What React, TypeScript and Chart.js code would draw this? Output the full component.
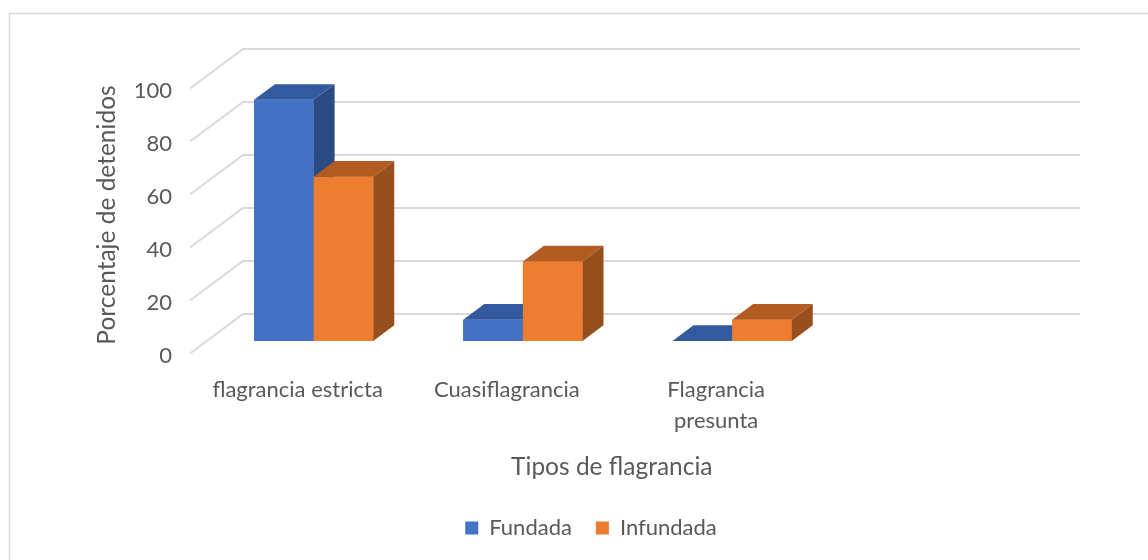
import React, { useEffect, useRef } from "react";
import { Chart, registerables } from "chart.js";

Chart.register(...registerables);

// ---- data ----
const categories: (string | string[])[] = [
  "flagrancia estricta",
  "Cuasiflagrancia",
  ["Flagrancia", "presunta"],
  "",
];
const fundada: (number | null)[] = [91, 8, 0, null];
const infundada: (number | null)[] = [62, 30, 8, null];
const seriesNames = ["Fundada", "Infundada"];
const yTickStep = 20;
const yMax = 100;
const xTitle = "Tipos de flagrancia";
const yTitle = "Porcentaje de detenidos";

// ---- style ----
const FONT = "Lato";
const TEXT = "#595959";
const GRID = "#d9d9d9";
const FRONT = ["#4472C4", "#ED7D31"];
const TOP = ["#335A9E", "#B35C21"];
const SIDE = ["#2A4A82", "#984F1E"];
// bar front plane -> back wall
const WALL_DX = 34;
const WALL_DY = -27;
// back wall -> front floor edge
const FLOOR_DX = -52.7;
const FLOOR_DY = 39.3;
// bar depth
const BAR_DX = 21;
const BAR_DY = -15.7;

const depthPlugin = {
  id: "depth3d",
  beforeDraw(chart: any) {
    const { ctx } = chart;
    ctx.save();
    ctx.fillStyle = "#fff";
    ctx.fillRect(0, 0, chart.width, chart.height);
    ctx.strokeStyle = GRID;
    ctx.lineWidth = 1.5;
    ctx.strokeRect(9.5, 13.5, 1200, 700);
    ctx.restore();
  },
  beforeDatasetsDraw(chart: any) {
    const { ctx, chartArea, scales } = chart;
    const y = scales.y;
    ctx.save();
    ctx.strokeStyle = GRID;
    ctx.lineWidth = 2;
    y.ticks.forEach((t: any) => {
      const py = y.getPixelForValue(t.value);
      const bx = chartArea.left + WALL_DX;
      const by = py + WALL_DY;
      ctx.beginPath();
      ctx.moveTo(bx + FLOOR_DX, by + FLOOR_DY);
      ctx.lineTo(bx, by);
      ctx.lineTo(chartArea.right + WALL_DX, by);
      ctx.stroke();
    });
    ctx.restore();
  },
  afterDatasetsDraw(chart: any) {
    const { ctx } = chart;
    const n = chart.data.labels.length;
    ctx.save();
    for (let i = 0; i < n; i++) {
      chart.data.datasets.forEach((ds: any, d: number) => {
        if (ds.data[i] === null || ds.data[i] === undefined) return;
        const el = chart.getDatasetMeta(d).data[i];
        if (!el) return;
        const { x, y, base, width } = el.getProps(["x", "y", "base", "width"], true);
        const l = x - width / 2;
        const r = x + width / 2;
        ctx.fillStyle = FRONT[d];
        ctx.fillRect(l, y, width, base - y);
        ctx.fillStyle = TOP[d];
        ctx.beginPath();
        ctx.moveTo(l, y);
        ctx.lineTo(l + BAR_DX, y + BAR_DY);
        ctx.lineTo(r + BAR_DX, y + BAR_DY);
        ctx.lineTo(r, y);
        ctx.closePath();
        ctx.fill();
        ctx.fillStyle = SIDE[d];
        ctx.beginPath();
        ctx.moveTo(r, y);
        ctx.lineTo(r + BAR_DX, y + BAR_DY);
        ctx.lineTo(r + BAR_DX, base + BAR_DY);
        ctx.lineTo(r, base);
        ctx.closePath();
        ctx.fill();
      });
    }
    ctx.restore();
  },
  afterDraw(chart: any) {
    const { ctx, chartArea } = chart;
    ctx.save();
    ctx.fillStyle = TEXT;
    ctx.font = `24.5px ${FONT}`;
    ctx.textAlign = "center";
    ctx.textBaseline = "middle";
    const cx = (chartArea.left + chartArea.right) / 2 + WALL_DX + FLOOR_DX + 3;
    ctx.fillText(xTitle, cx, 467);
    ctx.translate(107, 215);
    ctx.rotate(-Math.PI / 2);
    ctx.fillText(yTitle, 0, 0);
    ctx.restore();
  },
};

export default function App() {
  const ref = useRef<HTMLCanvasElement>(null);
  useEffect(() => {
    if (!ref.current) return;
    const chart = new Chart(ref.current, {
      type: "bar",
      data: {
        labels: categories,
        datasets: [
          { label: seriesNames[0], data: fundada, backgroundColor: FRONT[0], borderWidth: 0 },
          { label: seriesNames[1], data: infundada, backgroundColor: FRONT[1], borderWidth: 0 },
        ],
      },
      options: {
        responsive: false,
        animation: false,
        layout: { padding: { left: 136, top: 76, right: 102, bottom: 11 } },
        datasets: { bar: { categoryPercentage: 0.57, barPercentage: 1 } },
        plugins: {
          tooltip: { enabled: false },
          legend: {
            position: "bottom",
            labels: {
              boxWidth: 13,
              boxHeight: 13,
              padding: 24,
              color: TEXT,
              font: { family: FONT, size: 22 },
            },
          },
        },
        scales: {
          x: {
            grid: { display: false, drawTicks: false },
            border: { display: false },
            ticks: {
              color: TEXT,
              font: { family: FONT, size: 22, lineHeight: 1.4 },
              labelOffset: -16,
              padding: 34,
              maxRotation: 0,
              autoSkip: false,
            },
            afterFit(s: any) {
              s.height = 152;
            },
          },
          y: {
            min: 0,
            max: yMax,
            grid: { display: false, drawTicks: false },
            border: { display: false },
            ticks: {
              stepSize: yTickStep,
              color: TEXT,
              font: { family: FONT, size: 22 },
              labelOffset: 15,
              padding: 37,
            },
            afterFit(s: any) {
              s.width = 73;
            },
          },
        },
      },
      plugins: [depthPlugin],
    });
    return () => chart.destroy();
  }, []);
  return (
    <div style={{ position: "fixed", left: 0, top: 0, width: 1148, height: 560, background: "#fff" }}>
      <canvas ref={ref} width={1148} height={560} />
    </div>
  );
}
